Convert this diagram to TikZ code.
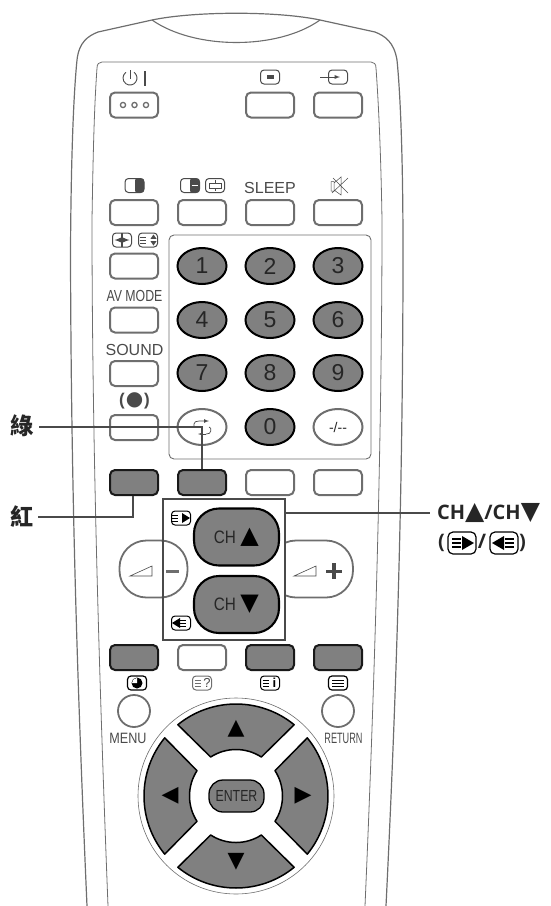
\documentclass[tikz,border=0pt]{standalone}
\usepackage{fontspec}
\setmainfont{Liberation Sans}
\newfontfamily\symfont{DejaVu Sans}
\newfontfamily\capfont{Open Sans}
\newfontfamily\cjkfont{Noto Sans CJK SC}
\usetikzlibrary{shapes, arrows, positioning}

\definecolor{keygray}{HTML}{808080}
\definecolor{rimgray}{HTML}{6E6E6E}
\definecolor{inkgray}{HTML}{4A4A4A}

\newcommand{\sz}[1]{\fontsize{#1}{#1}\selectfont}

\tikzset{
    whitekey/.style={draw=rimgray, line width=2pt, fill=white, rectangle, rounded corners=5pt,
        minimum width=48pt, minimum height=25pt, inner sep=0pt},
    graykey/.style={whitekey, draw=black!90, fill=keygray},
    numkey/.style={draw=black, line width=2pt, fill=keygray, ellipse, minimum width=49pt,
        minimum height=36pt, inner sep=0pt, text=black!85, font=\sz{23}},
    plainkey/.style={numkey, draw=rimgray, fill=white},
    chkey/.style={draw=black, line width=2.1pt, fill=keygray, rectangle, rounded corners=25pt,
        minimum width=85pt, minimum height=57pt, inner sep=0pt},
    volkey/.style={draw=rimgray, line width=1.8pt, rectangle, rounded corners=27pt,
        minimum height=57pt, inner sep=0pt},
    tag/.style={text=inkgray, inner sep=0pt, font=\sz{16}},
    scrbox/.style={draw=#1, line width=1pt, rectangle, rounded corners=3.5pt, minimum width=19pt,
        minimum height=14pt, inner sep=0pt},
    scrbox/.default=black,
    callout/.style={draw=inkgray, line width=1.1pt},
    lbl/.style={inner sep=0pt, font=\capfont\bfseries\sz{20}, text=black!85},
}

% three lines of the text symbol
\newcommand{\bars}[3]{\foreach \dy in {-3,0,3} \draw[#3, line width=.8pt] (#1-5.5,#2+\dy) -- (#1+.5,#2+\dy);}

\begin{document}
\begin{tikzpicture}[x=1pt, y=1pt]
    \useasboundingbox (0,-906) rectangle (550,0);

    % --- housing ---
    \draw[rimgray, line width=1.2pt] (87,-906) .. controls (78,-700) and (71,-500) .. (70.5,-250)
        .. controls (71,-170) and (73,-100) .. (77,-60)
        .. controls (79,-42) and (88,-36) .. (98,-32) -- (152,-20)
        .. controls (195,-11) and (278,-11) .. (320,-20) -- (375,-32)
        .. controls (385,-36) and (394,-42) .. (397,-60)
        .. controls (401,-100) and (403,-170) .. (403,-250)
        .. controls (403,-500) and (396,-700) .. (386,-906);
    \draw[rimgray, line width=1.1pt] (152,-20) .. controls (195,-50) and (278,-50) .. (320,-20);
    % inner panel
    \draw[rimgray, line width=.8pt] (108,-906) .. controls (100,-700) and (92,-450) .. (92,-220)
        .. controls (93,-160) and (94,-110) .. (97,-68) .. controls (97,-64) and (99,-62) .. (102,-62)
        -- (371,-62) .. controls (374,-62) and (376,-64) .. (376,-68)
        .. controls (379,-110) and (381,-160) .. (382,-220)
        .. controls (382,-450) and (374,-700) .. (365,-906);
    \draw[rimgray, line width=.9pt, rounded corners=5pt] (169,-235) rectangle (371,-459);

    % --- top keys ---
    \node[whitekey] (power) at (134,-105) {};
    \node[whitekey] (teletext) at (270,-105) {};
    \node[whitekey] (input) at (338,-105) {};
    \foreach \x in {123,134.5,146} \draw[rimgray, line width=1.3pt] (\x,-105) circle (2.6);
    \draw[inkgray, line width=.9pt] (134,-72.3) arc[start angle=55, end angle=-235, radius=7];
    \draw[inkgray, line width=.9pt] (130,-70) -- (130,-79);
    \draw[inkgray, line width=1.2pt] (145,-71) -- (145,-86);
    \node[scrbox=inkgray] (iconteletext) at (270,-77) {};
    \fill[inkgray] (266.5,-75) rectangle (273.5,-79);
    \node[scrbox=inkgray] (iconinput) at (338,-77) {};
    \draw[inkgray, line width=.9pt, -latex] (320,-77) -- (340,-77);

    % --- second row ---
    \node[whitekey] (contrast) at (134,-212.5) {};
    \node[whitekey] (freeze) at (202,-212.5) {};
    \node[whitekey] (sleep) at (270,-212.5) {};
    \node[whitekey] (mute) at (338,-212.5) {};
    \node[scrbox=inkgray] (iconcontrast) at (134.5,-185.5) {};
    \fill[inkgray, rounded corners=2pt] (135,-178.5) rectangle (144,-192.5);
    \node[scrbox=inkgray] (iconfreeze) at (190,-185.5) {};
    \fill[inkgray, rounded corners=2pt] (190,-178.5) rectangle (199.5,-192.5);
    \draw[white, line width=.8pt] (191.5,-185.5) -- (198,-185.5);
    \node[scrbox=inkgray] (iconzoom) at (215,-185.5) {};
    \draw[inkgray, line width=.7pt] (209,-183) rectangle (221,-188);
    \draw[inkgray, line width=.7pt] (215,-180) -- (215,-183) (215,-188) -- (215,-191);
    \node[tag, font=\sz{16}] (sleeptag) at (270,-188) {SLEEP};
    \draw[inkgray, line width=.5pt] (331,-181.5) rectangle (334,-191)
        (334,-183) -- (341,-177) -- (341,-195) -- (334,-190)
        (332,-193) -- (348,-178) (333,-178) -- (348,-193);

    % --- left column ---
    \node[whitekey] (wide) at (134,-266) {};
    \node[whitekey] (avmode) at (134,-320) {};
    \node[whitekey] (sound) at (134,-373.5) {};
    \node[whitekey] (surround) at (134,-427.5) {};
    \node[scrbox=inkgray] (iconwide) at (122,-240) {};
    \draw[inkgray, line width=1.4pt] (122,-233) -- (122,-247);
    \draw[inkgray, line width=1.2pt, -latex] (120,-240) -- (114.5,-240);
    \draw[inkgray, line width=1.2pt, -latex] (124,-240) -- (129.5,-240);
    \node[scrbox=inkgray] (iconscroll) at (148,-240) {};
    \bars{145}{-240}{inkgray}
    \fill[inkgray] (153.5,-234.5) -- (156.5,-238.8) -- (150.5,-238.8) -- cycle;
    \fill[inkgray] (153.5,-245.5) -- (156.5,-241.2) -- (150.5,-241.2) -- cycle;
    \node[tag, xscale=.77] (avtag) at (134.5,-296) {AV MODE};
    \node[tag] (soundtag) at (134.5,-349.5) {SOUND};
    \node[inner sep=0pt, text=inkgray, font=\bfseries\sz{17}] (surroundtag) at (134.5,-401) {(\hspace{1pt}{\symfont\sz{20}●}\hspace{1pt})};

    % --- number pad ---
    \foreach \n/\x/\y in {1/202/266, 2/270/266, 3/338/266, 4/202/320, 5/270/320, 6/338/320,
                          7/202/373, 8/270/373, 9/338/373, 0/270/427}
        \node[numkey] (num\n) at (\x,-\y) {\n};
    \node[plainkey] (flashback) at (202,-427) {};
    \node[plainkey, font=\sz{14}] (digits) at (338,-427) {-/-{}-};
    \draw[inkgray, line width=.7pt, -latex] (194,-427) -- (194,-424) .. controls (194,-422) and (196,-421) .. (199,-421) -- (209,-421);
    \draw[inkgray, line width=.7pt] (209,-427) .. controls (212,-427) and (212,-435) .. (206,-434);
    \draw[inkgray, line width=.7pt, -latex] (206,-434) -- (198,-434);

    % --- colour keys ---
    \node[graykey] (red) at (134,-482.5) {};
    \node[graykey] (green) at (202,-482.5) {};
    \node[whitekey] (yellow) at (270,-482.5) {};
    \node[whitekey] (blue) at (338,-482.5) {};

    % --- volume and channel ---
    \node[volkey, minimum width=68pt] (voldown) at (153.5,-569) {};
    \begin{scope}
        \clip (285.5,-530) rectangle (360,-610);
        \node[volkey, minimum width=84pt] (volup) at (311,-569) {};
    \end{scope}
    \draw[inkgray, line width=.6pt, fill=white] (130,-576) -- (152,-566) -- (152,-576) -- cycle;
    \draw[inkgray, line width=.6pt, fill=white] (294,-576) -- (316,-566) -- (316,-576) -- cycle;
    \fill[rimgray] (165.5,-569.5) rectangle (179,-573);
    \fill[inkgray] (326,-569.5) rectangle (342,-573);
    \fill[inkgray] (332.3,-563) rectangle (335.7,-579);
    \node[draw=inkgray, line width=1.3pt, minimum width=122pt, minimum height=141pt, inner sep=0pt] (chbox) at (224,-569.5) {};
    \node[chkey] (chup) at (236.5,-537) {};
    \node[chkey] (chdown) at (236.5,-604.5) {};
    \node[inner sep=0pt, text=black!85, font=\sz{18}, xscale=.85] (chuptag) at (225,-537) {CH};
    \node[inner sep=0pt, text=black, font=\symfont\sz{24}] (chuptri) at (249.5,-537) {▲};
    \node[inner sep=0pt, text=black!85, font=\sz{18}, xscale=.85] (chdowntag) at (225,-604) {CH};
    \node[inner sep=0pt, text=black, font=\symfont\sz{24}] (chdowntri) at (249.5,-604) {▼};
    \node[scrbox] (iconup) at (181,-518) {};
    \bars{177.5}{-518}{black}
    \fill (182,-513) -- (190,-518) -- (182,-523) -- cycle;
    \node[scrbox] (icondown) at (181,-623) {};
    \bars{185.5}{-623}{black}
    \fill (180,-618) -- (172,-623) -- (180,-628) -- cycle;

    % --- lower keys ---
    \node[graykey] (picture) at (134,-657.5) {};
    \node[whitekey] (help) at (202,-657.5) {};
    \node[graykey] (info) at (270,-657.5) {};
    \node[graykey] (index) at (338,-657.5) {};
    \node[scrbox, line width=1.2pt] (iconpicture) at (137,-683) {};
    \fill (137,-683) circle (5.5);
    \fill[white] (137,-683) -- (137,-678) arc[start angle=90, end angle=180, radius=5] -- cycle;
    \node[scrbox=rimgray] (iconhelp) at (202,-683) {};
    \bars{200}{-683}{rimgray}
    \node[inner sep=0pt, text=inkgray, font=\sz{13}] (helptag) at (207,-683) {?};
    \node[scrbox] (iconinfo) at (270,-683) {};
    \bars{268}{-683}{black}
    \node[inner sep=0pt, font=\bfseries\sz{13}] (infotag) at (274.5,-683) {i};
    \node[scrbox, line width=1.2pt] (iconindex) at (338,-683) {};
    \foreach \dy in {-3,0,3} \draw[line width=.9pt] (332,-683+\dy) -- (344,-683+\dy);

    % --- menu, return, cursor ---
    \node[draw=rimgray, line width=1.8pt, circle, minimum size=32pt, inner sep=0pt] (menu) at (134,-711) {};
    \node[draw=rimgray, line width=1.8pt, circle, minimum size=32pt, inner sep=0pt] (return) at (338,-711) {};
    \node[tag, font=\sz{15}, xscale=.84] (menutag) at (128,-738.5) {MENU};
    \node[tag, font=\sz{15}, xscale=.61] (returntag) at (343.5,-738.5) {RETURN};
    \draw[rimgray, line width=.6pt] (236,-796) circle (98);
    \foreach \a in {0,90,180,270} {
        \begin{scope}[shift={(236,-796)}, rotate=\a]
            \draw[black, line width=1.5pt, fill=keygray, line join=round] (39.2:92)
                arc[start angle=39.2, end angle=-39.2, radius=92]
                -- (-33:46.5) arc[start angle=-33, end angle=33, radius=46.5] -- cycle;
        \end{scope}
    }
    \node[draw=black, line width=1.3pt, fill=keygray, rectangle, rounded corners=14pt, minimum width=55pt,
        minimum height=32pt, inner sep=0pt, text=black!85, font=\sz{16}] (enter) at (236.5,-796) {\scalebox{.77}[1]{ENTER}};
    \node[inner sep=0pt, font=\symfont\sz{22}] (cursorup) at (236,-729) {▲};
    \node[inner sep=0pt, font=\symfont\sz{22}] (cursordown) at (236,-862) {▼};
    \node[inner sep=0pt, font=\symfont\sz{22}] (cursorleft) at (170,-796) {◀};
    \node[inner sep=0pt, font=\symfont\sz{22}] (cursorright) at (303,-796) {▶};

    % --- callouts ---
    \node[inner sep=0pt, font=\cjkfont\bfseries\sz{23}, text=black!85] (lblgreen) at (21.5,-426) {綠};
    \node[inner sep=0pt, font=\cjkfont\bfseries\sz{23}, text=black!85] (lblred) at (21.5,-517) {紅};
    \node[lbl, anchor=west] (lblch) at (437,-513) {CH{\symfont\sz{25}▲}/CH{\symfont\sz{25}▼}};
    \node[lbl, anchor=west] (lblpage) at (438,-543) {(\hspace{33pt}/\hspace{33pt})};
    \node[scrbox, line width=1.2pt, minimum width=28pt, minimum height=22pt, rounded corners=5pt] (iconpageup) at (462,-543) {};
    \foreach \dy in {-4,0,4} \draw[line width=1.2pt] (452,-543+\dy) -- (461,-543+\dy);
    \fill (462,-536) -- (474,-543) -- (462,-550) -- cycle;
    \node[scrbox, line width=1.2pt, minimum width=28pt, minimum height=22pt, rounded corners=5pt] (iconpagedown) at (504,-543) {};
    \foreach \dy in {-4,0,4} \draw[line width=1.2pt] (505,-543+\dy) -- (514,-543+\dy);
    \fill (504,-536) -- (492,-543) -- (504,-550) -- cycle;
    \coordinate (lblchend) at (430,-513);
    \coordinate (redturn) at (133,-517);
    \coordinate (greenturn) at (202,-427);
    \draw[callout] (lblgreen.east) ++(6,-1) -- (greenturn) -- (green.north);
    \draw[callout] (lblred.east) ++(5,0) -- (redturn) -- (redturn |- red.south);
    \draw[callout] (chbox.east |- lblchend) -- (lblchend);
\end{tikzpicture}
\end{document}
